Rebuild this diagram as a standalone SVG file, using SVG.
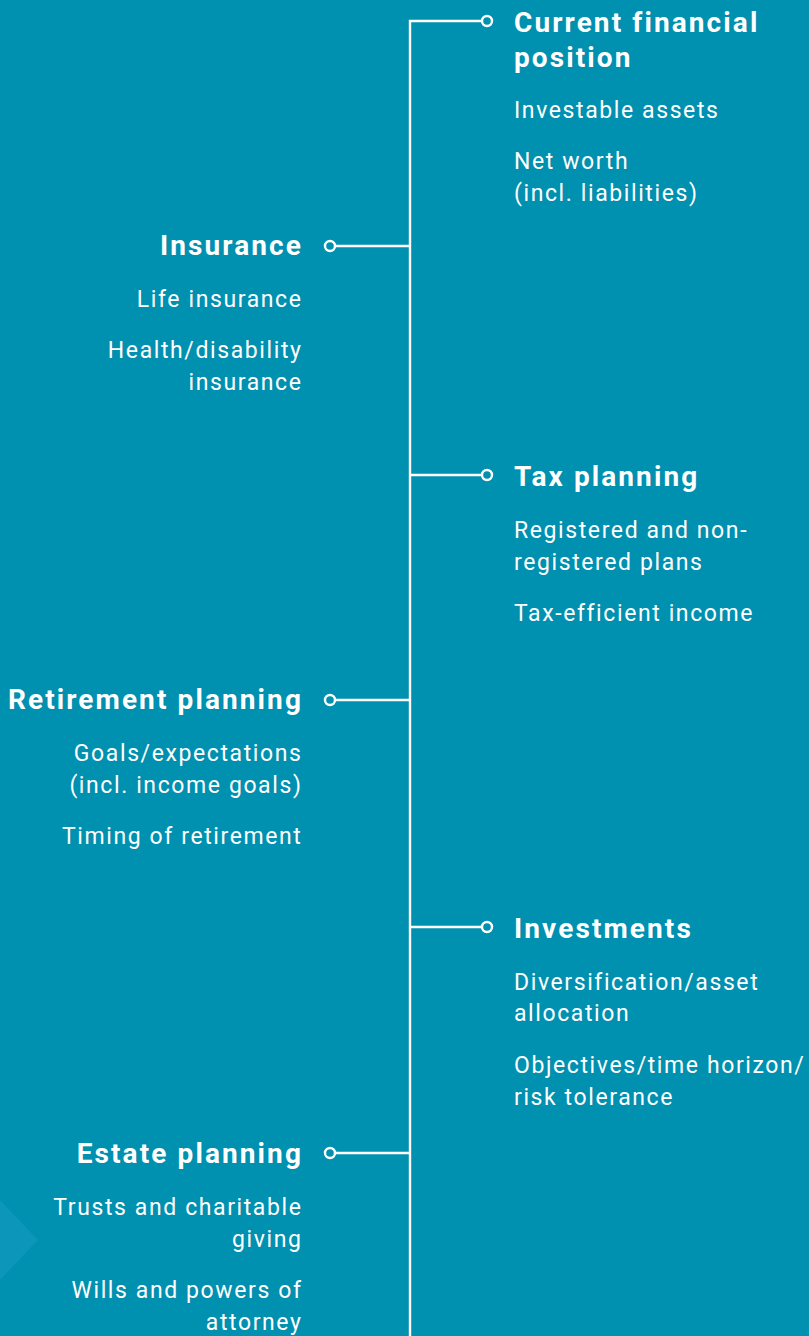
<svg xmlns="http://www.w3.org/2000/svg" width="809" height="1336" viewBox="0 0 809 1336">
<style>
.t{font-family:"Roboto","Liberation Sans",sans-serif;font-weight:700;font-size:28px;fill:#fff;letter-spacing:2.1px}
.i{font-family:"Roboto","Liberation Sans",sans-serif;font-size:23px;fill:#fff;letter-spacing:1.6px}
.l{text-anchor:end}
.c{stroke:#fff;stroke-width:2.4;fill:none}
</style>
<rect width="809" height="1336" fill="#0090b0"/>
<polygon points="0,1200 38,1240 0,1280" fill="#0c96b9"/>
<g id="connectors">
<line class="c" x1="410" y1="20" x2="410" y2="1336"/>
<line class="c" x1="409" y1="21" x2="482" y2="21"/>
<circle class="c" cx="487" cy="21" r="5"/>
<line class="c" x1="409" y1="475" x2="482" y2="475"/>
<circle class="c" cx="487" cy="475" r="5"/>
<line class="c" x1="409" y1="927" x2="482" y2="927"/>
<circle class="c" cx="487" cy="927" r="5"/>
<line class="c" x1="335" y1="246" x2="411" y2="246"/>
<circle class="c" cx="330" cy="246" r="5"/>
<line class="c" x1="335" y1="700" x2="411" y2="700"/>
<circle class="c" cx="330" cy="700" r="5"/>
<line class="c" x1="335" y1="1153" x2="411" y2="1153"/>
<circle class="c" cx="330" cy="1153" r="5"/>
</g>
<g id="current">
<text class="t" x="514" y="32">Current financial</text>
<text class="t" x="514" y="67">position</text>
<text class="i" x="514" y="118">Investable assets</text>
<text class="i" x="514" y="169">Net worth</text>
<text class="i" x="514" y="201">(incl. liabilities)</text>
</g>
<g id="insurance">
<text class="t l" x="303" y="255">Insurance</text>
<text class="i l" x="302.5" y="307">Life insurance</text>
<text class="i l" x="302.5" y="358">Health/disability</text>
<text class="i l" x="302.5" y="390">insurance</text>
</g>
<g id="tax">
<text class="t" x="514" y="486">Tax planning</text>
<text class="i" x="514" y="538">Registered and non-</text>
<text class="i" x="514" y="570">registered plans</text>
<text class="i" x="514" y="621">Tax-efficient income</text>
</g>
<g id="retirement">
<text class="t l" x="303" y="709">Retirement planning</text>
<text class="i l" x="302.5" y="761">Goals/expectations</text>
<text class="i l" x="302.5" y="793">(incl. income goals)</text>
<text class="i l" x="302.5" y="844">Timing of retirement</text>
</g>
<g id="investments">
<text class="t" x="514" y="938">Investments</text>
<text class="i" x="514" y="990">Diversification/asset</text>
<text class="i" x="514" y="1021">allocation</text>
<text class="i" x="514" y="1073">Objectives/time horizon/</text>
<text class="i" x="514" y="1105">risk tolerance</text>
</g>
<g id="estate">
<text class="t l" x="303" y="1163">Estate planning</text>
<text class="i l" x="302.5" y="1215">Trusts and charitable</text>
<text class="i l" x="302.5" y="1247">giving</text>
<text class="i l" x="302.5" y="1298">Wills and powers of</text>
<text class="i l" x="302.5" y="1330">attorney</text>
</g>
</svg>
